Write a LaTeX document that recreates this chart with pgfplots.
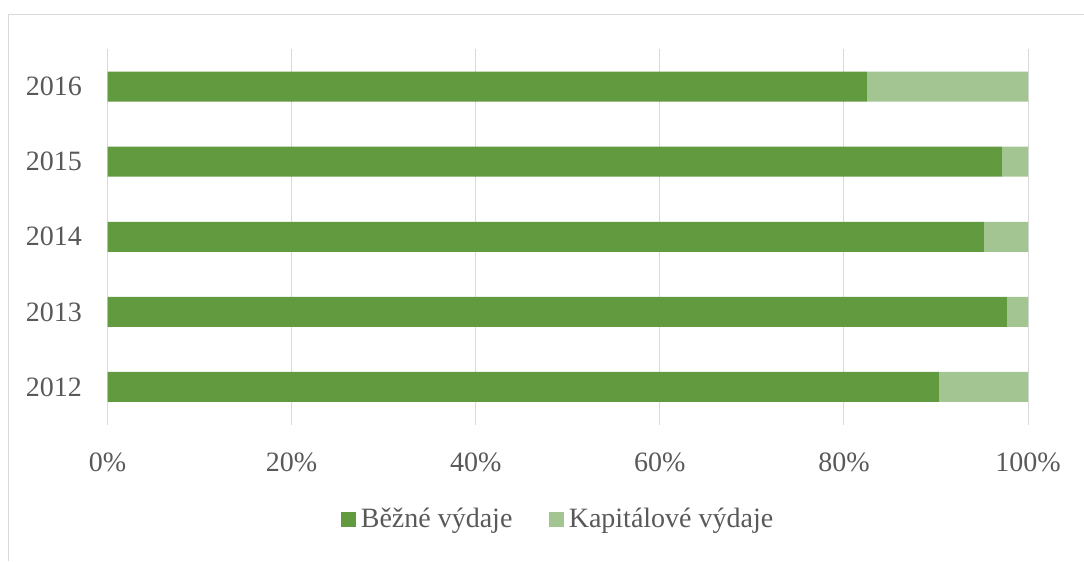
\documentclass[border=0pt]{standalone}
\usepackage{pgfplots}
\pgfplotsset{compat=1.18}
\usepackage{fontspec}
\setmainfont{Liberation Serif}
\definecolor{dgreen}{HTML}{629A3F}
\definecolor{lgreen}{HTML}{A3C592}
\definecolor{txt}{HTML}{595959}
\definecolor{gridc}{HTML}{D9D9D9}
\begin{document}
\fontsize{21}{25}\selectfont
\begin{tikzpicture}
\useasboundingbox (0,0) rectangle (813pt,-420.75pt);
\draw[gridc, line width=0.75pt] (6pt,-420.75pt) -- (6pt,-10.5pt) -- (813pt,-10.5pt);
\begin{axis}[
  at={(80.625pt,-318.375pt)}, anchor=south west,
  scale only axis, width=690.4pt, height=281.6pt,
  xbar stacked, bar width=22.5pt,
  xmin=0, xmax=100, ymin=-0.5, ymax=4.5,
  xtick={0,20,40,60,80,100},
  xticklabels={0\%,20\%,40\%,60\%,80\%,100\%},
  ytick={0,1,2,3,4},
  yticklabels={2012,2013,2014,2015,2016},
  major tick length=0pt,
  axis line style={draw=none},
  xmajorgrids, grid style={gridc, line width=0.75pt},
  ticklabel style={font=\fontsize{21}{25}\selectfont, text=txt},
  xticklabel style={yshift=-14pt},
  yticklabel style={xshift=-12pt},
  legend columns=2,
  legend style={at={(0.49,-0.254)}, anchor=center, draw=none, fill=none,
    font=\fontsize{21}{25}\selectfont, text=txt,
    /tikz/every odd column/.append style={column sep=1.5pt},
    /tikz/every even column/.append style={column sep=25.5pt}},
  legend image code/.code={\fill[#1] (0pt,-5.6pt) rectangle (11.25pt,5.6pt);},
]
\addplot[fill=dgreen, draw=none] coordinates {(90.3,0) (97.7,1) (95.2,2) (97.2,3) (82.5,4)};
\addplot[fill=lgreen, draw=none] coordinates {(9.7,0) (2.3,1) (4.8,2) (2.8,3) (17.5,4)};
\legend{Běžné výdaje, Kapitálové výdaje}
\end{axis}
\end{tikzpicture}
\end{document}
